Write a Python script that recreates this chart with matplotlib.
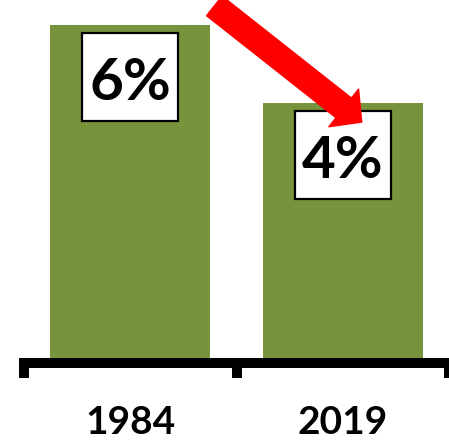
import matplotlib

matplotlib.use("Agg")
import matplotlib.pyplot as plt  # noqa: E402
import matplotlib.transforms as mtransforms  # noqa: E402
from matplotlib.patches import Rectangle  # noqa: E402

# bar values (percent) and their category labels
years = ["1984", "2019"]
shares = [6, 4]

BAR_COLOR = "#77933C"
ARROW_COLOR = "#FF0000"
FLOOR = -2.54          # value where the bars sit on the axis line

plt.rcParams["font.family"] = ["Lato", "DejaVu Sans"]

fig = plt.figure(figsize=(4.49, 4.44), dpi=100)
ax = fig.add_axes([0.0, 0.1824, 1.0, 0.8176])

x = list(range(len(years)))
ax.bar(x, [v - FLOOR for v in shares], bottom=FLOOR, width=0.753,
       color=BAR_COLOR, edgecolor="none", zorder=2)

ax.set_xlim(-0.6142, 1.4361)
ax.set_ylim(FLOOR - 0.128, 6.641)

# value labels: fixed-size white box hanging just under each bar top
for xi, v in zip(x, shares):
    anchor = fig.dpi_scale_trans + mtransforms.ScaledTranslation(xi, v, ax.transData)
    ax.add_patch(Rectangle((-0.48, -0.96), 0.96, 0.88, transform=anchor,
                           fc="white", ec="black", lw=1.6, zorder=4))
    ax.annotate(
        f"{v}%", (xi, v),
        xytext=(0, -54), textcoords="offset points",
        ha="center", va="baseline",
        fontsize=42, fontweight="bold", color="black", zorder=4.5,
    )

# red arrow pointing from the first bar down to the second
ax.annotate(
    "", xy=(1.089, 3.51), xytext=(0.395, 6.49),
    arrowprops=dict(
        arrowstyle="simple,head_length=1.65,head_width=3.45,tail_width=1.8",
        mutation_scale=10, color=ARROW_COLOR, shrinkA=0, shrinkB=0,
    ),
    annotation_clip=False, zorder=5,
)

# axis: thick baseline with short ticks at the category boundaries
for side in ("top", "left", "right"):
    ax.spines[side].set_visible(False)
ax.spines["bottom"].set_linewidth(7.2)
ax.spines["bottom"].set_bounds(-0.5, 1.5)
ax.spines["bottom"].set_capstyle("projecting")
ax.set_yticks([])
ax.set_xticks([-0.5, 0.5, 1.5], labels=["", "", ""])
ax.tick_params(axis="x", which="major", direction="out",
               length=10.8, width=7.2, color="black")
ax.set_xticks(x, labels=years, minor=True)
ax.tick_params(axis="x", which="minor", length=0, pad=30,
               labelsize=28)
for lbl in ax.get_xticklabels(minor=True):
    lbl.set_fontweight("bold")

ax.patch.set_visible(False)
fig.savefig("out.png", dpi=100)
